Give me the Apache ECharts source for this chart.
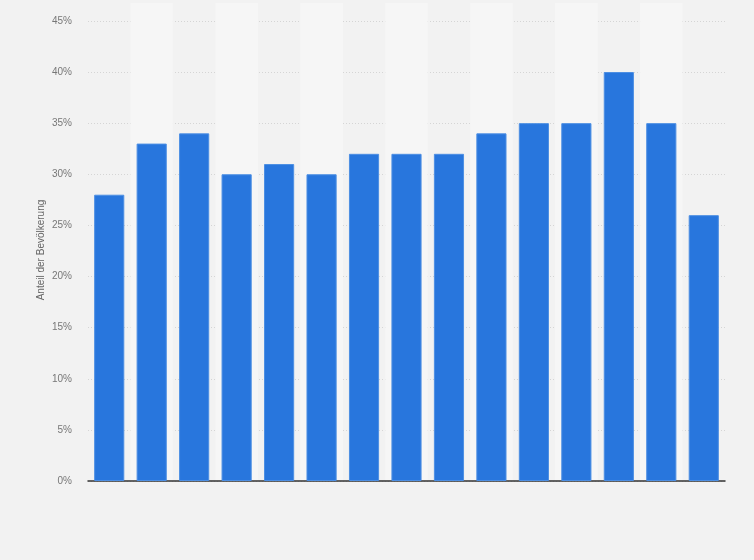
<!DOCTYPE html>
<html>
<head>
<meta charset="utf-8">
<script src="https://cdn.jsdelivr.net/npm/echarts@6/dist/echarts.min.js"></script>
<style>
html,body{margin:0;padding:0;background:#f2f2f2;}
#chart{width:754px;height:560px;}
</style>
</head>
<body>
<div id="chart"></div>
<script>
const categories = ['1','2','3','4','5','6','7','8','9','10','11','12','13','14','15'];
const values = [28, 33, 34, 30, 31, 30, 32, 32, 32, 34, 35, 35, 40, 35, 26];
const yTicks = [0, 5, 10, 15, 20, 25, 30, 35, 40, 45];
const yTitle = 'Anteil der Bevölkerung';

const chart = echarts.init(document.getElementById('chart'));
chart.setOption({
  backgroundColor: '#f2f2f2',
  animation: false,
  grid: { left: 88, right: 29, top: 3, bottom: 79 },
  graphic: [{
    type: 'text',
    x: 41,
    y: 250,
    rotation: Math.PI / 2,
    style: {
      text: yTitle,
      fill: '#666',
      fontSize: 10,
      fontFamily: 'Liberation Sans',
      align: 'center',
      verticalAlign: 'middle'
    }
  }],
  xAxis: {
    type: 'category',
    data: categories,
    axisLine: { show: true, lineStyle: { color: '#333', width: 1.5 } },
    axisTick: { show: false },
    axisLabel: { show: false },
    splitArea: { show: true, areaStyle: { color: ['rgba(0,0,0,0)', '#f6f6f6'] } }
  },
  yAxis: {
    type: 'value',
    min: 0,
    max: 46.75,
    interval: 5,
    axisLine: { show: false },
    axisTick: { show: false },
    axisLabel: {
      color: '#777', fontSize: 10, fontFamily: 'Liberation Sans', margin: 16,
      showMaxLabel: false,
      formatter: v => (yTicks.indexOf(v) >= 0 ? v + '%' : '')
    },
    splitLine: { showMaxLine: false, lineStyle: { color: '#d5d5d5', type: [1, 2], width: 1 } }
  },
  series: [{
    type: 'bar',
    data: values,
    barCategoryGap: '29%',
    itemStyle: { color: '#2876dd', borderColor: '#4d8fe3', borderWidth: 1 }
  }]
});
</script>
</body>
</html>
